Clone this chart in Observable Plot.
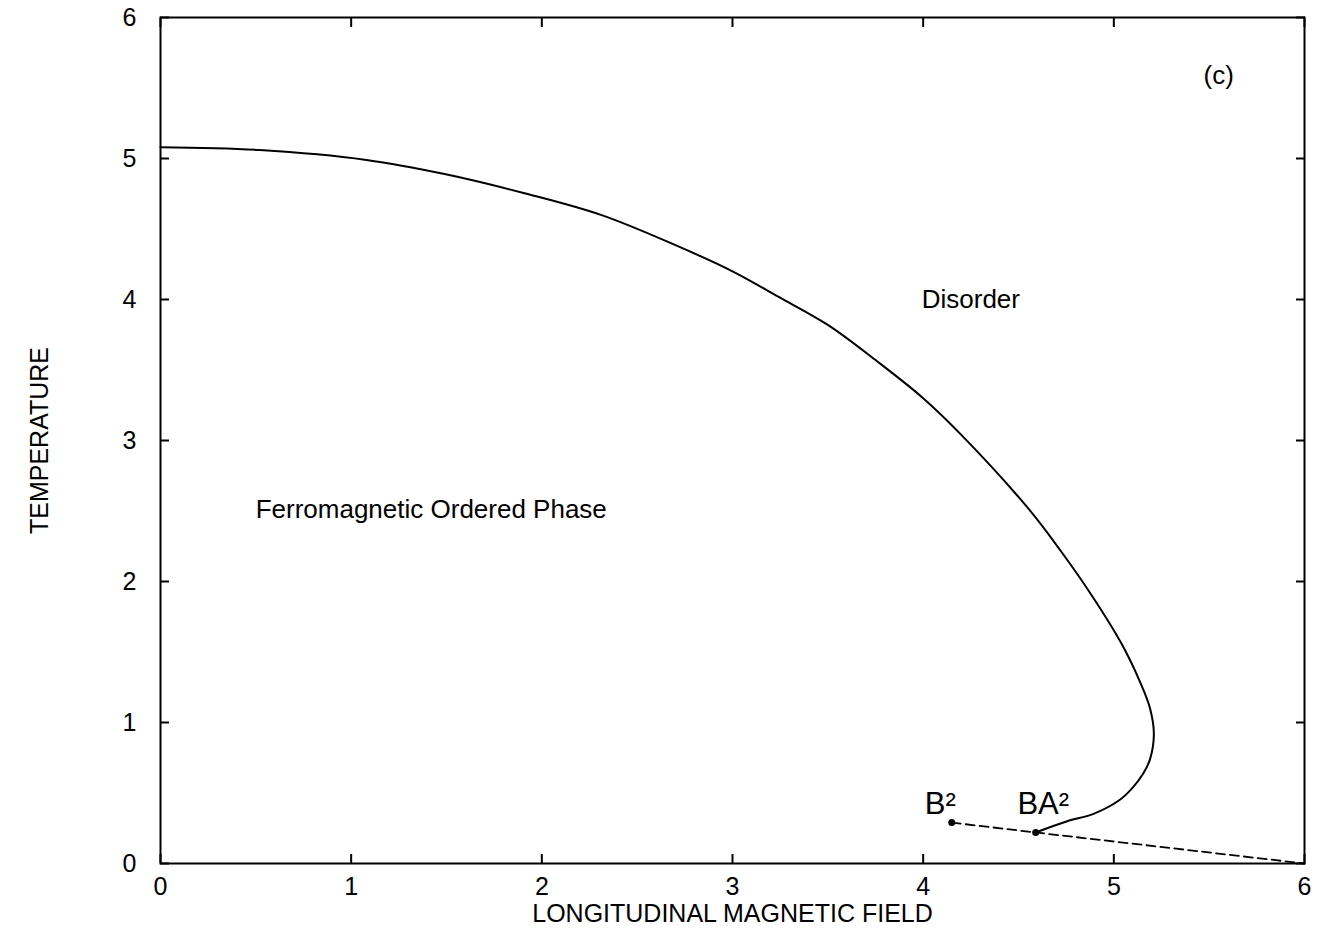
<!DOCTYPE html>
<html>
<head>
<meta charset="utf-8">
<script src="https://cdn.jsdelivr.net/npm/d3@7"></script>
<script src="https://cdn.jsdelivr.net/npm/@observablehq/plot@0.6"></script>
<style>
  html, body { margin: 0; padding: 0; background: #fff; }
  #chart svg { display: block; }
</style>
</head>
<body>
<div id="chart"></div>
<script>
// Phase boundary (solid curve)
const curveX = [0, 0.52, 1.08, 1.49, 1.92, 2.31, 2.71, 3.00, 3.24, 3.50, 3.76, 4.00, 4.20, 4.55, 4.72, 4.88, 5.04, 5.14, 5.19, 5.21, 5.19, 5.155, 5.10, 5.03, 4.89, 4.755, 4.59];
const curveY = [5.08, 5.06, 4.99, 4.89, 4.75, 4.60, 4.38, 4.20, 4.02, 3.82, 3.56, 3.30, 3.04, 2.52, 2.22, 1.91, 1.56, 1.28, 1.10, 0.92, 0.74, 0.64, 0.54, 0.45, 0.35, 0.30, 0.22];
// Dashed line B -> BA -> end
const dashX = [4.15, 4.59, 6.0];
const dashY = [0.29, 0.22, 0.0];
// Special points
const pointX = [4.15, 4.59];
const pointY = [0.29, 0.22];
// Annotations
const labelText = ["Disorder", "Ferromagnetic Ordered Phase", "(c)"];
const labelX = [4.25, 1.42, 5.55];
const labelY = [4.0, 2.51, 5.59];
const pointLabelText = ["B\u00b2", "BA\u00b2"];
const pointLabelX = [4.09, 4.63];
const pointLabelY = [0.42, 0.42];
const ticks = [0, 1, 2, 3, 4, 5, 6];

const curve = curveX.map((x, i) => ({x, y: curveY[i]}));
const dash = dashX.map((x, i) => ({x, y: dashY[i]}));
const pts = pointX.map((x, i) => ({x, y: pointY[i]}));
const labels = labelText.map((t, i) => ({t, x: labelX[i], y: labelY[i]}));
const plabels = pointLabelText.map((t, i) => ({t, x: pointLabelX[i], y: pointLabelY[i]}));
const none = () => "";
const fmt = d3.format("d");

const chart = Plot.plot({
  width: 1317,
  height: 932,
  marginLeft: 160,
  marginRight: 13,
  marginTop: 17,
  marginBottom: 69,
  style: {fontFamily: "Liberation Sans, Arial, sans-serif", fontSize: "26px", color: "#000", background: "#fff"},
  x: {domain: [0, 6]},
  y: {domain: [0, 6]},
  marks: [
    Plot.axisX(ticks, {anchor: "bottom", tickSize: 0, tickPadding: 14, fontSize: 25, tickFormat: fmt,
      label: "LONGITUDINAL MAGNETIC FIELD", labelAnchor: "center", labelArrow: "none", labelOffset: 58}),
    Plot.axisX(ticks, {anchor: "bottom", tickSize: -9, tickFormat: none, label: null, strokeWidth: 2}),
    Plot.axisX(ticks, {anchor: "top", tickSize: -9, tickFormat: none, label: null, strokeWidth: 2}),
    Plot.axisY(ticks, {anchor: "left", tickSize: 0, tickPadding: 24, fontSize: 25, tickFormat: fmt,
      label: "TEMPERATURE", labelAnchor: "center", labelArrow: "none", labelOffset: 130}),
    Plot.axisY(ticks, {anchor: "left", tickSize: -9, tickFormat: none, label: null, strokeWidth: 2}),
    Plot.axisY(ticks, {anchor: "right", tickSize: -9, tickFormat: none, label: null, strokeWidth: 2}),
    Plot.frame({stroke: "#000", strokeWidth: 2}),
    Plot.line(curve, {x: "x", y: "y", stroke: "#000", strokeWidth: 2, curve: "catmull-rom"}),
    Plot.line(dash, {x: "x", y: "y", stroke: "#000", strokeWidth: 1.8, strokeDasharray: "9,5"}),
    Plot.dot(pts, {x: "x", y: "y", r: 3.5, fill: "#000"}),
    Plot.text(labels, {x: "x", y: "y", text: "t", fontSize: 26, fill: "#000"}),
    Plot.text(plabels, {x: "x", y: "y", text: "t", fontSize: 31, fill: "#000"})
  ]
});
document.getElementById("chart").appendChild(chart);
</script>
</body>
</html>
